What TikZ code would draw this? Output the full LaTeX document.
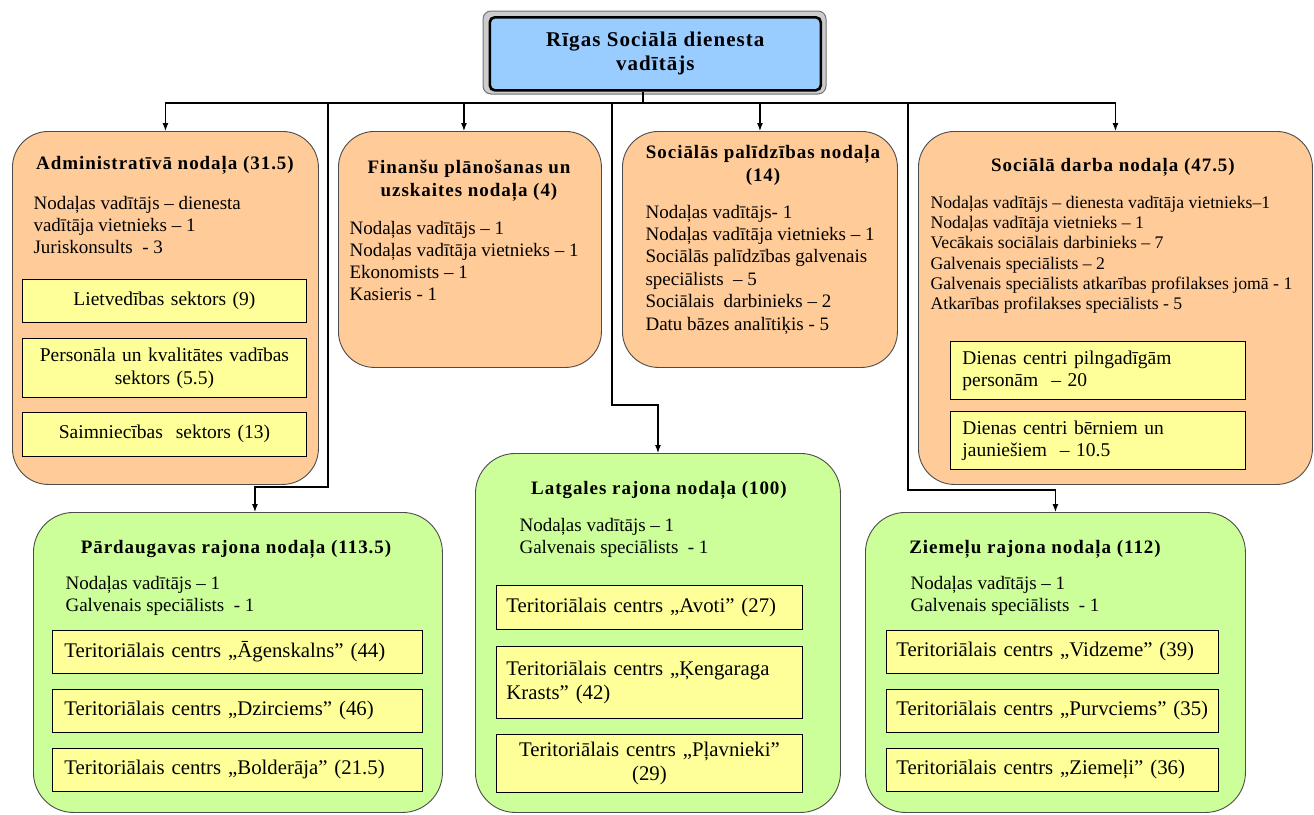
\documentclass[tikz,border=0pt]{standalone}
\usepackage{fontspec}
\setmainfont{Liberation Serif}
\newfontfamily\headfont[LetterSpace=5]{Liberation Serif}
\usepackage{tikz}
\usetikzlibrary{arrows.meta}
\usetikzlibrary{positioning}
\tikzset{>={Latex[length=8pt,width=6pt]}}
\definecolor{deptfill}{HTML}{FFCC99}
\definecolor{distrfill}{HTML}{CCFF99}
\definecolor{sectfill}{HTML}{FFFF99}
\definecolor{chieffill}{HTML}{99CCFF}

\begin{document}
\begin{tikzpicture}[x=1pt, y=-1pt, line width=1.1pt,
		dept/.style={draw=black!70, line width=0.9pt, fill=deptfill, rounded corners=36pt, inner sep=0pt, anchor=north west},
		distr/.style={dept, fill=distrfill, rounded corners=40pt},
		sect/.style={draw=black, line width=0.9pt, fill=sectfill, inner xsep=10pt, inner ysep=0pt, anchor=north west, align=left, font=\fontsize{20.8}{23.5}\selectfont},
		head/.style={font=\headfont\bfseries\fontsize{19}{23}\selectfont, align=center, inner sep=0pt, anchor=base},
		staff/.style={font=\fontsize{19}{22}\selectfont, align=left, inner sep=0pt, anchor=base west}]
		\useasboundingbox (0,0) rectangle (1314,814);
		\draw[draw=black!55, fill=black!20, line width=1pt, rounded corners=8pt] (483,11) rectangle (826,94);
		\node[draw=black, fill=chieffill, line width=2.6pt, rounded corners=5pt, minimum width=331pt, minimum height=73pt, anchor=north west, align=center, font=\headfont\bfseries\fontsize{21}{24}\selectfont] (chief) at (488.5,16) {Rīgas Sociālā dienesta\\vadītājs};

		\node[dept, minimum width=306pt, minimum height=353pt] (adm) at (12,131) {};
		\node[dept, minimum width=263pt, minimum height=236pt] (fin) at (338,131) {};
		\node[dept, minimum width=275pt, minimum height=236pt] (spal) at (622,131) {};
		\node[dept, minimum width=394pt, minimum height=353pt] (darb) at (918,131) {};
		\node[distr, minimum width=409pt, minimum height=300pt] (pard) at (33,512) {};
		\node[distr, minimum width=365pt, minimum height=359pt] (latg) at (475,453) {};
		\node[distr, minimum width=380pt, minimum height=300pt] (ziem) at (865,512) {};

		\coordinate (bus) at (643,103);
		\coordinate (pk) at (328,487);
		\coordinate (lk) at (612,405);
		\coordinate (zk) at (908,490);
		\draw (chief.south -| bus) -- (bus);
		\draw[->] (bus) -| (adm.north);
		\draw[->] (bus) -| ([xshift=-6pt]fin.north);
		\draw[->] (bus) -| (spal.north);
		\draw[->] (bus) -| (darb.north);
		\draw[->] (bus -| pk) -- (pk) -| ([xshift=17pt]pard.north);
		\draw[->] (bus -| lk) -- (lk) -| (latg.north);
		\draw[->] (bus -| zk) -- (zk) -| (ziem.north);

		\node[head] (admT) at (165,169) {Administratīvā nodaļa (31.5)};
		\node[staff] (admS) at (33,253) {Nodaļas vadītājs – dienesta\\vadītāja vietnieks – 1\\Juriskonsults \ - 3};
		\node[sect, text width=264pt, align=center, minimum height=43pt, font=\fontsize{19.5}{23}\selectfont] (adm1) at (22,279) {Lietvedības sektors (9)};
		\node[sect, text width=264pt, align=center, minimum height=59pt, font=\fontsize{19.5}{23}\selectfont, below=15pt of adm1] (adm2) {Personāla un kvalitātes vadības\\sektors (5.5)};
		\node[sect, text width=264pt, align=center, minimum height=44pt, font=\fontsize{19.5}{23}\selectfont, below=14pt of adm2] (adm3) {Saimniecības \ sektors (13)};

		\node[head] (finT) at (469,196) {Finanšu plānošanas un\\uzskaites nodaļa (4)};
		\node[staff] (finS) at (349,300) {Nodaļas vadītājs – 1\\Nodaļas vadītāja vietnieks – 1\\Ekonomists – 1\\Kasieris - 1};

		\node[head] (spalT) at (763,181) {Sociālās palīdzības nodaļa\\(14)};
		\node[staff, font=\fontsize{19}{22.4}\selectfont] (spalS) at (645,330) {Nodaļas vadītājs- 1\\Nodaļas vadītāja vietnieks – 1\\Sociālās palīdzības galvenais\\speciālists \ – 5\\Sociālais \ darbinieks – 2\\Datu bāzes analītiķis - 5};

		\node[head] (darbT) at (1113,171) {Sociālā darba nodaļa (47.5)};
		\node[staff, font=\fontsize{17.7}{20.2}\selectfont] (darbS) at (930,309.5) {Nodaļas vadītājs – dienesta vadītāja vietnieks–1\\Nodaļas vadītāja vietnieks – 1\\Vecākais sociālais darbinieks – 7\\Galvenais speciālists – 2\\Galvenais speciālists atkarības profilakses jomā - 1\\Atkarības profilakses speciālists - 5};
		\node[sect, text width=271pt, inner xsep=12pt, minimum height=58pt, font=\fontsize{19.5}{22}\selectfont] (darb1) at (950,341) {Dienas centri pilngadīgām\\personām \ – 20};
		\node[sect, text width=271pt, inner xsep=12pt, minimum height=58pt, font=\fontsize{19.5}{22}\selectfont, below=11pt of darb1] (darb2) {Dienas centri bērniem un\\jauniešiem \ – 10.5};

		\node[head] (pardT) at (236,553) {Pārdaugavas rajona nodaļa (113.5)};
		\node[staff] (pardS) at (65,611) {Nodaļas vadītājs – 1\\Galvenais speciālists \ - 1};
		\node[sect, text width=346pt, inner xsep=12pt, minimum height=43pt] (pard1) at (52,630) {Teritoriālais centrs „Āgenskalns” (44)};
		\node[sect, text width=346pt, inner xsep=12pt, minimum height=43pt, below=15pt of pard1] (pard2) {Teritoriālais centrs „Dzirciems” (46)};
		\node[sect, text width=346pt, inner xsep=12pt, minimum height=43pt, below=15pt of pard2] (pard3) {Teritoriālais centrs „Bolderāja” (21.5)};

		\node[head] (latgT) at (659,494) {Latgales rajona nodaļa (100)};
		\node[staff] (latgS) at (519,553) {Nodaļas vadītājs – 1\\Galvenais speciālists \ - 1};
		\node[sect, text width=286pt, minimum height=44pt] (latg1) at (496,585) {Teritoriālais centrs „Avoti” (27)};
		\node[sect, text width=286pt, minimum height=72pt, below=16pt of latg1] (latg2) {Teritoriālais centrs „Ķengaraga\\Krasts” (42)};
		\node[sect, text width=286pt, minimum height=58pt, align=center, below=15pt of latg2] (latg3) {Teritoriālais centrs „Pļavnieki”\\(29)};

		\node[head] (ziemT) at (1035,553) {Ziemeļu rajona nodaļa (112)};
		\node[staff] (ziemS) at (910,611) {Nodaļas vadītājs – 1\\Galvenais speciālists \ - 1};
		\node[sect, text width=312pt, minimum height=43pt] (ziem1) at (886,630) {Teritoriālais centrs „Vidzeme” (39)};
		\node[sect, text width=312pt, minimum height=43pt, below=15pt of ziem1] (ziem2) {Teritoriālais centrs „Purvciems” (35)};
		\node[sect, text width=312pt, minimum height=43pt, below=15pt of ziem2] (ziem3) {Teritoriālais centrs „Ziemeļi” (36)};
	\end{tikzpicture}
\end{document}
